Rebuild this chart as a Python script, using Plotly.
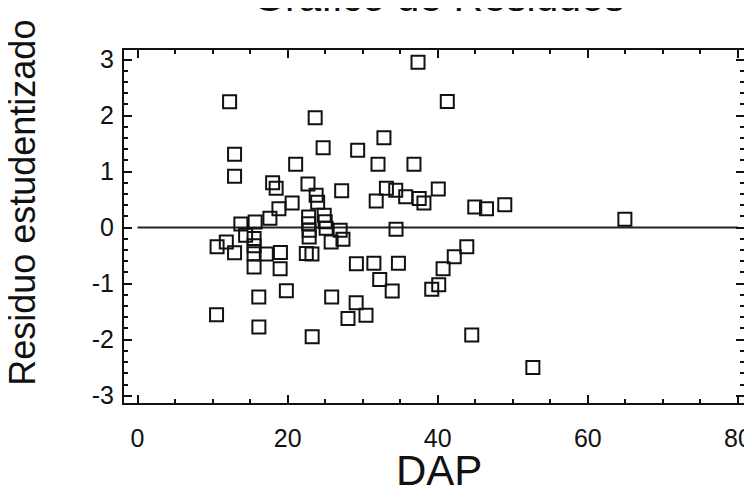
import plotly.graph_objects as go

# DAP vs studentized residuals
dap = [12.27, 37.37, 41.27, 23.67, 32.83, 12.93, 24.73, 29.33, 12.93, 21.07,
       32.04, 36.83, 18.0, 18.47, 22.71, 27.2, 33.16, 34.4, 40.07, 23.8,
       24.0, 31.8, 35.73, 37.53, 38.16, 44.93, 46.49, 48.93, 64.93, 20.6,
       18.84, 17.64, 15.67, 13.77, 22.8, 22.8, 22.87, 22.87, 24.87, 25.0,
       25.13, 27.0, 27.37, 25.8, 34.44, 14.4, 11.83, 10.6, 12.93, 15.53,
       15.53, 15.53, 15.53, 17.16, 19.04, 19.0, 22.49, 23.24, 29.16, 31.49,
       34.76, 32.27, 33.93, 40.71, 42.2, 43.87, 40.13, 39.2, 16.16, 19.83,
       25.87, 29.13, 28.04, 30.44, 10.53, 16.17, 23.27, 44.53, 52.67]
residuo = [2.245, 2.951, 2.249, 1.960, 1.603, 1.308, 1.424, 1.380, 0.916, 1.130,
           1.130, 1.130, 0.803, 0.702, 0.778, 0.657, 0.702, 0.666, 0.689, 0.577,
           0.452, 0.475, 0.550, 0.518, 0.439, 0.368, 0.339, 0.407, 0.148, 0.439,
           0.339, 0.166, 0.100, 0.064, 0.189, 0.071, -0.048, -0.168, 0.220, 0.104,
           -0.012, -0.048, -0.209, -0.257, -0.027, -0.137, -0.257, -0.343, -0.450, -0.196,
           -0.325, -0.468, -0.703, -0.473, -0.444, -0.732, -0.464, -0.471, -0.643, -0.637,
           -0.637, -0.926, -1.132, -0.732, -0.518, -0.343, -1.021, -1.101, -1.239, -1.128,
           -1.239, -1.342, -1.624, -1.566, -1.553, -1.774, -1.946, -1.917, -2.497]

zero_x = [0, 80]
zero_y = [0, 0]

x_ticks = [0, 20, 40, 60, 80]
y_ticks = [-3, -2, -1, 0, 1, 2, 3]
y_labels = ["-3", "-2", "-1", "0", "1", "2", "3"]

fnt = "Liberation Sans, Arial"

fig = go.Figure()
fig.add_trace(go.Scatter(x=zero_x, y=zero_y, mode="lines",
                         line=dict(color="#222", width=2), hoverinfo="skip"))
fig.add_trace(go.Scatter(x=dap, y=residuo, mode="markers",
                         marker=dict(symbol="square-open", size=13, color="#111",
                                     line=dict(width=2, color="#111"))))

axis_common = dict(showgrid=False, zeroline=False, showline=True, linecolor="#111",
                   linewidth=2, mirror="ticks", ticks="inside", tickcolor="#111",
                   tickwidth=2, ticklen=8, automargin=False,
                   tickfont=dict(family=fnt, size=25, color="#111"))

fig.update_xaxes(range=[-1.8, 80.8], tickvals=x_ticks, ticklabelstandoff=12,
                 minor=dict(dtick=5, ticks="inside", ticklen=4, tickwidth=2, tickcolor="#111"),
                 **axis_common)
fig.update_yaxes(range=[-3.13, 3.17], tickvals=y_ticks, ticktext=y_labels, ticklabelstandoff=3,
                 minor=dict(dtick=0.2, ticks="inside", ticklen=4, tickwidth=2, tickcolor="#111"),
                 **axis_common)

# title sits partly above the top edge, as in the photo
fig.add_annotation(text="Grafico de Residuos", xref="paper", yref="paper", x=0.508, y=1,
                   xanchor="center", yanchor="bottom", yshift=28, showarrow=False,
                   font=dict(family=fnt, size=41, color="#111"))
fig.add_annotation(text="DAP", xref="paper", yref="paper", x=0.508, y=0,
                   xanchor="center", yanchor="middle", yshift=-67, showarrow=False,
                   font=dict(family=fnt, size=42, color="#111"))
fig.add_annotation(text="Residuo estudentizado", xref="paper", yref="paper", x=0, y=0.567,
                   xanchor="center", yanchor="middle", xshift=-101, textangle=-90,
                   showarrow=False, font=dict(family=fnt, size=36, color="#111"))

# the page body has an 8px margin, so the margins are offset to compensate
fig.update_layout(width=752, height=498, showlegend=False, template="none",
                  margin=dict(l=116, r=16, t=42, b=103),
                  plot_bgcolor="white", paper_bgcolor="white")

fig.write_html("out.html")
